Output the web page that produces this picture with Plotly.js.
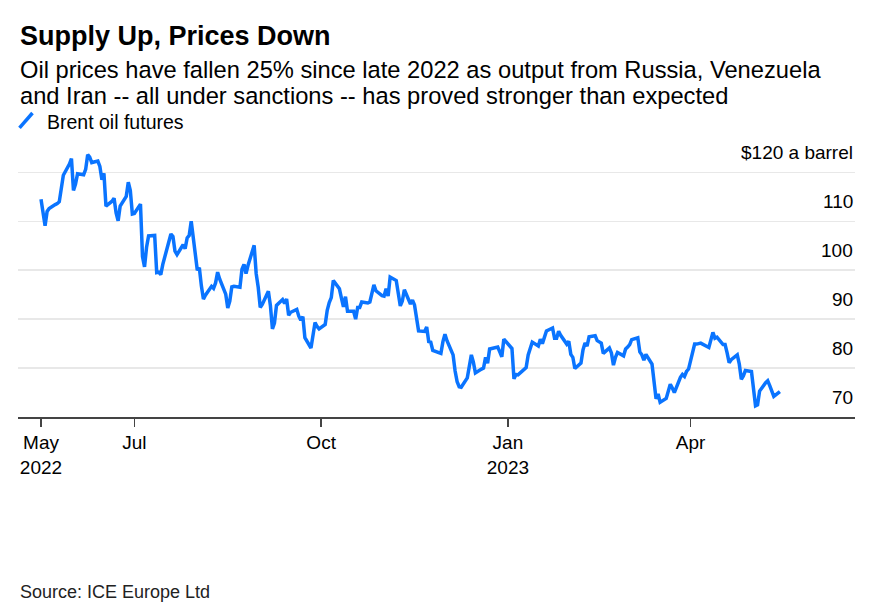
<!DOCTYPE html>
<html>
<head>
<meta charset="utf-8">
<script src="https://cdn.plot.ly/plotly-3.0.1.min.js"></script>
<style>
  html, body { margin: 0; padding: 0; background: #fff; }
  #chart { width: 893px; height: 613px; }
</style>
</head>
<body>
<div id="chart"></div>
<script>
// ---- Data (Brent oil futures, $ a barrel) ----
const dates = [
  '2022-05-16','2022-05-17','2022-05-18','2022-05-19','2022-05-20','2022-05-23','2022-05-24','2022-05-25','2022-05-26','2022-05-27',
  '2022-05-30','2022-05-31','2022-06-01','2022-06-02','2022-06-03','2022-06-06','2022-06-07','2022-06-08','2022-06-09','2022-06-10',
  '2022-06-13','2022-06-14','2022-06-15','2022-06-16','2022-06-17','2022-06-20','2022-06-21','2022-06-22','2022-06-23','2022-06-24',
  '2022-06-27','2022-06-28','2022-06-29','2022-06-30','2022-07-01','2022-07-04','2022-07-05','2022-07-06','2022-07-07','2022-07-08',
  '2022-07-11','2022-07-12','2022-07-13','2022-07-14','2022-07-15','2022-07-18','2022-07-19','2022-07-20','2022-07-21','2022-07-22',
  '2022-07-25','2022-07-26','2022-07-27','2022-07-28','2022-07-29','2022-08-01','2022-08-02','2022-08-03','2022-08-04','2022-08-05',
  '2022-08-08','2022-08-09','2022-08-10','2022-08-11','2022-08-12','2022-08-15','2022-08-16','2022-08-17','2022-08-18','2022-08-19',
  '2022-08-22','2022-08-23','2022-08-24','2022-08-25','2022-08-26','2022-08-29','2022-08-30','2022-08-31','2022-09-01','2022-09-02',
  '2022-09-05','2022-09-06','2022-09-07','2022-09-08','2022-09-09','2022-09-12','2022-09-13','2022-09-14','2022-09-15','2022-09-16',
  '2022-09-19','2022-09-20','2022-09-21','2022-09-22','2022-09-23','2022-09-26','2022-09-27','2022-09-28','2022-09-29','2022-09-30',
  '2022-10-03','2022-10-04','2022-10-05','2022-10-06','2022-10-07','2022-10-10','2022-10-11','2022-10-12','2022-10-13','2022-10-14',
  '2022-10-17','2022-10-18','2022-10-19','2022-10-20','2022-10-21','2022-10-24','2022-10-25','2022-10-26','2022-10-27','2022-10-28',
  '2022-10-31','2022-11-01','2022-11-02','2022-11-03','2022-11-04','2022-11-07','2022-11-08','2022-11-09','2022-11-10','2022-11-11',
  '2022-11-14','2022-11-15','2022-11-16','2022-11-17','2022-11-18','2022-11-21','2022-11-22','2022-11-23','2022-11-24','2022-11-25',
  '2022-11-28','2022-11-29','2022-11-30','2022-12-01','2022-12-02','2022-12-05','2022-12-06','2022-12-07','2022-12-08','2022-12-09',
  '2022-12-12','2022-12-13','2022-12-14','2022-12-15','2022-12-16','2022-12-19','2022-12-20','2022-12-21','2022-12-22','2022-12-23',
  '2022-12-27','2022-12-28','2022-12-29','2022-12-30','2023-01-03','2023-01-04','2023-01-05','2023-01-06','2023-01-09','2023-01-10',
  '2023-01-11','2023-01-12','2023-01-13','2023-01-16','2023-01-17','2023-01-18','2023-01-19','2023-01-20','2023-01-23','2023-01-24',
  '2023-01-25','2023-01-26','2023-01-27','2023-01-30','2023-01-31','2023-02-01','2023-02-02','2023-02-03','2023-02-06','2023-02-07',
  '2023-02-08','2023-02-09','2023-02-10','2023-02-13','2023-02-14','2023-02-15','2023-02-16','2023-02-17','2023-02-20','2023-02-21',
  '2023-02-22','2023-02-23','2023-02-24','2023-02-27','2023-02-28','2023-03-01','2023-03-02','2023-03-03','2023-03-06','2023-03-07',
  '2023-03-08','2023-03-09','2023-03-10','2023-03-13','2023-03-14','2023-03-15','2023-03-16','2023-03-17','2023-03-20','2023-03-21',
  '2023-03-22','2023-03-23','2023-03-24','2023-03-27','2023-03-28','2023-03-29','2023-03-30','2023-03-31','2023-04-03','2023-04-04',
  '2023-04-05','2023-04-06','2023-04-10','2023-04-11','2023-04-12','2023-04-13','2023-04-14','2023-04-17','2023-04-18','2023-04-19',
  '2023-04-20','2023-04-21','2023-04-24','2023-04-25','2023-04-26','2023-04-27','2023-04-28','2023-05-01','2023-05-02','2023-05-03',
  '2023-05-04','2023-05-05','2023-05-08','2023-05-09','2023-05-10','2023-05-11','2023-05-12','2023-05-15'
];
const brent = [
  114.5,111.9,109.1,112.0,112.6,113.4,113.6,114.0,117.4,119.4,
  121.7,122.8,116.3,117.6,119.7,119.5,120.6,123.6,123.1,122.0,
  122.3,121.2,118.5,119.8,113.1,114.1,114.7,111.7,110.1,113.1,
  115.1,118.0,116.3,111.5,111.6,113.5,102.8,100.7,104.7,107.0,
  107.1,99.5,99.6,99.1,101.2,106.3,107.4,106.9,103.9,103.2,
  105.2,104.4,106.6,107.1,110.0,100.0,100.5,96.8,94.1,94.9,
  96.7,96.3,97.4,99.6,98.2,95.1,92.3,93.7,96.6,96.7,
  96.5,100.2,101.2,99.3,101.0,105.1,99.3,96.5,92.4,93.0,
  95.7,92.8,88.0,89.2,92.8,94.0,93.2,94.1,90.8,91.4,
  92.0,90.6,89.8,90.5,86.2,84.1,86.3,89.3,88.5,88.0,
  88.9,91.8,93.4,94.4,97.9,96.2,94.3,92.5,94.6,91.6,
  91.6,90.0,92.4,92.4,93.5,93.3,93.5,95.7,97.0,95.8,
  94.8,94.7,96.2,94.7,98.6,97.9,95.4,92.7,93.7,96.0,
  93.1,93.9,92.9,89.8,87.6,87.5,88.4,85.4,85.3,83.6,
  83.2,83.0,85.4,86.9,85.6,82.7,79.4,77.2,76.2,76.1,
  78.0,80.7,82.7,81.2,79.0,79.8,80.0,82.2,81.0,83.9,
  84.3,83.3,82.3,85.9,84.0,77.8,78.7,78.6,79.7,80.1,
  82.7,84.0,85.3,84.5,85.9,85.0,86.2,87.6,88.2,86.1,
  86.1,87.5,86.7,84.9,85.5,82.8,82.2,79.9,81.0,83.7,
  85.1,84.5,86.4,86.6,85.6,85.4,85.1,83.0,84.1,83.1,
  80.6,82.2,83.2,82.5,83.9,84.3,84.8,85.8,86.2,83.3,
  82.7,81.6,82.8,80.8,77.5,73.7,74.7,73.0,73.8,75.3,
  76.7,75.9,75.0,78.1,78.7,78.3,79.3,79.8,84.9,84.9,
  85.0,85.1,84.2,85.6,87.3,86.1,86.3,84.8,84.8,83.1,
  81.1,81.7,82.7,80.8,77.7,78.4,79.5,79.3,75.3,72.3,
  72.5,75.3,77.0,77.4,76.4,75.0,74.2,75.2
];

// Axis ticks
const xTickVals = ['2022-05-16','2022-07-01','2022-10-01','2023-01-01','2023-04-01'];
const xTickText = ['May<br>2022','Jul','Oct','Jan<br>2023','Apr'];
const yGridVals = [80, 90, 100, 110, 120];
const yLabelVals = [120, 110, 100, 90, 80, 70];
const yLabelText = ['$120 a barrel', '110', '100', '90', '80', '70'];

const FONT = '"Liberation Sans", Arial, Helvetica, sans-serif';
const BLUE = '#0a74ff';

const trace = {
  x: dates,
  y: brent,
  type: 'scatter',
  mode: 'lines',
  line: { color: BLUE, width: 3.5, shape: 'linear' },
  hoverinfo: 'x+y',
  showlegend: false
};

const annotations = [
  { xref: 'paper', yref: 'paper', x: 0, y: 1.392, xanchor: 'left', yanchor: 'middle',
    text: '<b>Supply Up, Prices Down</b>', showarrow: false,
    font: { family: FONT, size: 27, color: '#000' } },
  { xref: 'paper', yref: 'paper', x: 0, y: 1.268, xanchor: 'left', yanchor: 'middle',
    text: 'Oil prices have fallen 25% since late 2022 as output from Russia, Venezuela', showarrow: false,
    font: { family: FONT, size: 23.7, color: '#000' } },
  { xref: 'paper', yref: 'paper', x: 0, y: 1.170, xanchor: 'left', yanchor: 'middle',
    text: 'and Iran -- all under sanctions -- has proved stronger than expected', showarrow: false,
    font: { family: FONT, size: 23.7, color: '#000' } },
  { xref: 'paper', yref: 'paper', x: 0.0323, y: 1.076, xanchor: 'left', yanchor: 'middle',
    text: 'Brent oil futures', showarrow: false,
    font: { family: FONT, size: 19.5, color: '#000' } },
  { xref: 'paper', yref: 'paper', x: 0, y: -0.640, xanchor: 'left', yanchor: 'middle',
    text: 'Source: ICE Europe Ltd', showarrow: false,
    font: { family: FONT, size: 18, color: '#222' } }
];
yLabelVals.forEach((v, i) => {
  annotations.push({
    xref: 'paper', yref: 'y', x: 1, y: v, xanchor: 'right', yanchor: 'middle',
    yshift: 20, text: yLabelText[i], showarrow: false,
    font: { family: FONT, size: 19, color: '#000' }
  });
});

const layout = {
  width: 893, height: 613,
  paper_bgcolor: '#fff', plot_bgcolor: '#fff',
  margin: { l: 18, r: 38, t: 142.6, b: 196, pad: 0 },
  font: { family: FONT, color: '#000' },
  showlegend: false,
  xaxis: {
    type: 'date',
    range: ['2022-05-04 16:00', '2023-06-21'],
    tickvals: xTickVals, ticktext: xTickText,
    tickmode: 'array',
    showgrid: false, zeroline: false,
    showline: true, linecolor: '#444', linewidth: 1.6,
    ticks: 'outside', ticklen: 8, tickwidth: 1.5, tickcolor: '#444',
    tickfont: { family: FONT, size: 19, color: '#000' },
    fixedrange: true
  },
  yaxis: {
    range: [70, 126],
    tickvals: yGridVals, tickmode: 'array',
    showticklabels: false, ticks: '',
    showgrid: true, gridcolor: '#e8e8e8', gridwidth: 1.5,
    zeroline: false, showline: false,
    fixedrange: true
  },
  shapes: [
    { type: 'line', xref: 'paper', yref: 'paper',
      x0: 0.0018, y0: 1.0555, x1: 0.0173, y1: 1.1095,
      line: { color: BLUE, width: 3.5 } }
  ],
  annotations: annotations
};

Plotly.newPlot('chart', [trace], layout, { displayModeBar: false, staticPlot: true });
</script>
</body>
</html>
